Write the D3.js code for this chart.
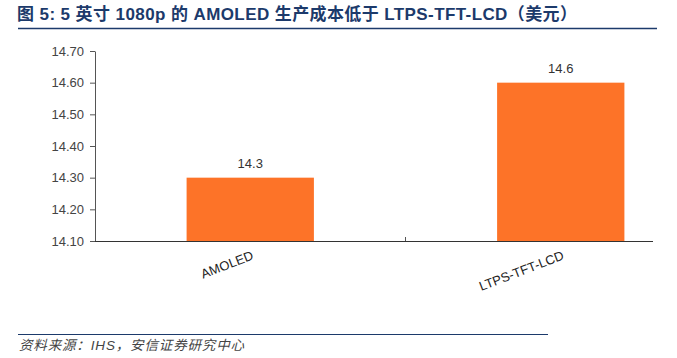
<!DOCTYPE html>
<html><head><meta charset="utf-8">
<script src="https://cdn.jsdelivr.net/npm/d3@7"></script>
<style>body{margin:0;background:#fff}</style>
</head><body>
<svg id="c" width="677" height="358"></svg>
<script>
const categories = ["AMOLED", "LTPS-TFT-LCD"];
const values = [14.3, 14.6];
const valueLabels = ["14.3", "14.6"];
const yTicks = [14.10, 14.20, 14.30, 14.40, 14.50, 14.60, 14.70];
const titleText = "图 5: 5 英寸 1080p 的 AMOLED 生产成本低于 LTPS-TFT-LCD（美元）";
const sourceText = "资料来源：IHS，安信证券研究中心";

const svg = d3.select("#c");
const font = "Arial, 'Liberation Sans', 'Noto Sans CJK SC', sans-serif";
const navy = "#1c3a6b";

svg.append("text").attr("x", 17).attr("y", 20).attr("font-family", font)
  .attr("font-size", 17).attr("font-weight", "bold").attr("fill", navy)
  .attr("textLength", 560).attr("lengthAdjust", "spacing").text(titleText);
svg.append("line").attr("x1", 18).attr("x2", 657).attr("y1", 28.5).attr("y2", 28.5)
  .attr("stroke", navy).attr("stroke-width", 1.5);

const y = d3.scaleLinear().domain([14.1, 14.7]).range([241, 51]);
const x = d3.scaleBand().domain(categories).range([95, 716]).paddingInner(0.59).paddingOuter(0.295);
const x0 = 95, x1 = 653;

// y axis
const gy = svg.append("g").attr("transform", `translate(${x0},0)`)
  .call(d3.axisLeft(y).tickValues(yTicks).tickFormat(d3.format(".2f")).tickSize(5).tickSizeOuter(0));
gy.select(".domain").attr("stroke", "#555");
gy.selectAll(".tick line").attr("stroke", "#555");
gy.selectAll(".tick text").attr("font-family", font).attr("font-size", 13).attr("fill", "#444").attr("x", -11);

// bars
svg.selectAll("rect.bar").data(values).join("rect").attr("class", "bar")
  .attr("x", (d, i) => x(categories[i])).attr("width", x.bandwidth())
  .attr("y", d => y(d)).attr("height", d => y(14.1) - y(d))
  .attr("fill", "#fd7328");

svg.selectAll("text.vl").data(values).join("text").attr("class", "vl")
  .attr("x", (d, i) => x(categories[i]) + x.bandwidth() / 2).attr("y", d => y(d) - 10)
  .attr("text-anchor", "middle").attr("font-family", font).attr("font-size", 13).attr("fill", "#333")
  .text((d, i) => valueLabels[i]);

// x axis
svg.append("line").attr("x1", x0).attr("x2", x1).attr("y1", 241.5).attr("y2", 241.5).attr("stroke", "#333");
const midTick = (x(categories[0]) + x.bandwidth() + x(categories[1])) / 2;
svg.append("line").attr("x1", midTick).attr("x2", midTick).attr("y1", 237).attr("y2", 241).attr("stroke", "#555");

svg.selectAll("text.xl").data(categories).join("text").attr("class", "xl")
  .attr("transform", d => `translate(${x(d) + x.bandwidth() / 2 + 4},259) rotate(-21)`)
  .attr("text-anchor", "end").attr("font-family", font).attr("font-size", 13).attr("fill", "#222")
  .text(d => d);

// footer
svg.append("line").attr("x1", 18).attr("x2", 548).attr("y1", 334.5).attr("y2", 334.5)
  .attr("stroke", navy).attr("stroke-width", 1.2);
svg.append("text").attr("x", 19).attr("y", 350).attr("font-family", font)
  .attr("font-size", 13.5).attr("font-style", "italic").attr("fill", "#444")
  .attr("textLength", 225).attr("lengthAdjust", "spacing").text(sourceText);
</script>
</body></html>
